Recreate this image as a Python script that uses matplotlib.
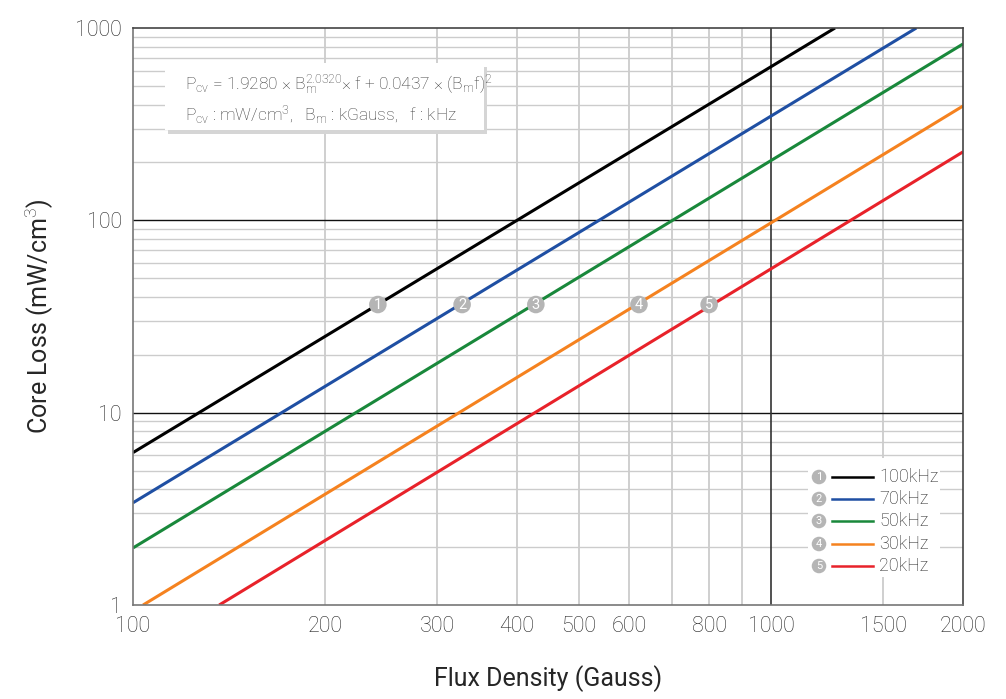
import matplotlib
matplotlib.use("Agg")
import matplotlib.pyplot as plt
from matplotlib.patches import Rectangle
from matplotlib.ticker import FixedLocator, NullFormatter, NullLocator

plt.rcParams['font.family'] = ['Roboto', 'DejaVu Sans']
plt.rcParams['font.weight'] = 'light'
plt.rcParams['mathtext.fontset'] = 'custom'
plt.rcParams['mathtext.rm'] = 'Roboto:light'
plt.rcParams['mathtext.it'] = 'Roboto:light'

# ---- data ----
series_labels = ['100kHz', '70kHz', '50kHz', '30kHz', '20kHz']
series_colors = ['#000000', '#1f4fa3', '#19883b', '#f5821f', '#e8222a']
x_100k = [100, 1260]
y_100k = [6.2, 1000]
x_70k = [100, 1690]
y_70k = [3.4, 1000]
x_50k = [100, 2000]
y_50k = [1.98, 826]
x_30k = [103.7, 2000]
y_30k = [1.0, 393]
x_20k = [136.5, 2000]
y_20k = [1.0, 227]
marker_x = [242, 328, 428, 621, 800]
marker_y = [36.5, 36.5, 36.5, 36.5, 36.5]
marker_nums = ['1', '2', '3', '4', '5']
x_ticks = [100, 200, 300, 400, 500, 600, 800, 1000, 1500, 2000]
x_minor_grid = [200, 300, 400, 500, 600, 700, 800, 900, 1500]
y_ticks = [1, 10, 100, 1000]

xs = [x_100k, x_70k, x_50k, x_30k, x_20k]
ys = [y_100k, y_70k, y_50k, y_30k, y_20k]

text_col = '#262626'

fig = plt.figure(figsize=(10.06, 6.99), dpi=100)
ax = fig.add_axes([133/1006, 1-605/699, (963-133)/1006, (605-28)/699])
ax.set_xscale('log')
ax.set_yscale('log')
ax.set_xlim(100, 2000)
ax.set_ylim(1, 1000)

grid_gray = '#cccccc'
for dec in [1, 10, 100]:
    for m in range(2, 10):
        ax.axhline(dec*m, color=grid_gray, lw=1.0, zorder=0.5)
for v in [10, 100]:
    ax.axhline(v, color='#111111', lw=1.0, zorder=0.6)
for v in x_minor_grid:
    ax.axvline(v, color=grid_gray, lw=1.3, zorder=0.5)
ax.axvline(1000, color='#333333', lw=1.2, zorder=0.6)

for x, y, c in zip(xs, ys, series_colors):
    ax.plot(x, y, color=c, lw=2.2, zorder=2, solid_capstyle='butt')

ax.scatter(marker_x, marker_y, s=160, color='#b5b5b5', zorder=3, edgecolors='none')
for mx, my, n in zip(marker_x, marker_y, marker_nums):
    ax.text(mx, my, n, color='white', fontsize=10.5, ha='center', va='center', zorder=4,
            fontweight='normal')

ax.xaxis.set_major_locator(FixedLocator(x_ticks))
ax.set_xticklabels([str(v) for v in x_ticks])
ax.xaxis.set_minor_locator(NullLocator())
ax.xaxis.set_minor_formatter(NullFormatter())
ax.yaxis.set_major_locator(FixedLocator(y_ticks))
ax.set_yticklabels([str(v) for v in y_ticks])
ax.yaxis.set_minor_locator(NullLocator())
ax.tick_params(axis='both', which='major', length=0, labelsize=15.5, labelcolor=text_col, pad=8)

for s in ['left', 'bottom']:
    ax.spines[s].set_color('#777777')
for s in ['top', 'right']:
    ax.spines[s].set_color('#444444')
for s in ax.spines.values():
    s.set_linewidth(1.2)

ax.set_xlabel('Flux Density (Gauss)', fontsize=18, color=text_col, labelpad=20)
ax.set_ylabel('Core Loss (mW/cm$^3$)', fontsize=18, color=text_col, labelpad=14)

def px(xp, yp):
    return ((xp-133)/830, (605-yp)/577)

bx0, by0 = px(165, 130)
bx1, by1 = px(484, 63)
shadow = Rectangle((bx0+0.004, by0-0.007), bx1-bx0, by1-by0, transform=ax.transAxes,
                   facecolor='#d5d5d5', edgecolor='none', zorder=5)
box = Rectangle((bx0, by0), bx1-bx0, by1-by0, transform=ax.transAxes,
                facecolor='white', edgecolor='none', zorder=6)
ax.add_patch(shadow)
ax.add_patch(box)
tx, ty = px(185, 85)
ax.text(tx, ty, r'$\mathrm{P_{cv}}$ = 1.9280 × $\mathrm{B_m^{2.0320}}$× f + 0.0437 × ($\mathrm{B_m}$f)$^2$',
        transform=ax.transAxes, fontsize=12.5, color='#3a3a3a', va='center', zorder=7)
tx, ty = px(185, 115)
ax.text(tx, ty, r'$\mathrm{P_{cv}}$ : mW/cm$^3$,   $\mathrm{B_m}$ : kGauss,   f : kHz',
        transform=ax.transAxes, fontsize=12.5, color='#3a3a3a', va='center', zorder=7)

lx0, ly0 = px(808, 577)
lx1, ly1 = px(940, 458)
ax.add_patch(Rectangle((lx0, ly0), lx1-lx0, ly1-ly0, transform=ax.transAxes,
                       facecolor='white', edgecolor='none', zorder=5))
rows_y = [477, 499, 521, 544, 566]
for ry, c, lab, n in zip(rows_y, series_colors, series_labels, marker_nums):
    cx, cy = px(819, ry)
    ax.scatter([cx], [cy], s=110, color='#b5b5b5', transform=ax.transAxes, zorder=6, edgecolors='none')
    ax.text(cx, cy, n, transform=ax.transAxes, color='white', fontsize=8, ha='center', va='center',
            zorder=7, fontweight='normal')
    a0, _ = px(832, ry)
    a1, _ = px(873, ry)
    ax.plot([a0, a1], [cy, cy], transform=ax.transAxes, color=c, lw=1.8, zorder=6)
    t0, _ = px(879, ry)
    ax.text(t0, cy, lab, transform=ax.transAxes, fontsize=13, color=text_col, va='center', zorder=7)

fig.savefig('out.png', dpi=100)
